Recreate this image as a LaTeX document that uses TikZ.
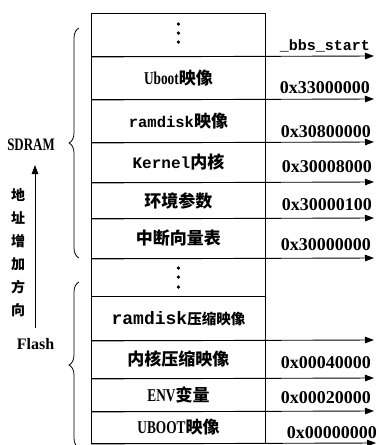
\documentclass[tikz,border=0pt]{standalone}
\usepackage{graphicx}
\usepackage{fontspec}
\setmainfont{Liberation Serif}
\newfontfamily\cjk{Noto Sans CJK SC}
\newfontfamily\mono{Liberation Mono}
\newcommand\condtxt[2]{\scalebox{0.74}[1]{\rmfamily\bfseries\fontsize{#1}{#1}\selectfont #2}}
\usetikzlibrary{arrows.meta,decorations.pathreplacing}
\newcommand\fsz[1]{\fontsize{#1}{#1}\selectfont}
\begin{document}
\begin{tikzpicture}[x=1pt,y=-1pt,
  row/.style={draw, line width=0.9pt, minimum width=174pt, inner sep=0pt, anchor=north west, font=\cjk\bfseries\fsz{17}},
  addr/.style={line width=0.9pt, -{Triangle[length=9pt,width=6.5pt]}},
  hex/.style={anchor=base east, inner sep=0pt, font=\bfseries\fsz{18}},
  bracestyle/.style={line width=0.8pt, decorate, decoration={brace, amplitude=10pt}},
  dotmark/.style={fill=black},
  vch/.style={font=\cjk\bfseries\fsz{14}, inner sep=0pt}
]
\useasboundingbox (0,0) rectangle (378,445);

% memory rows
\node[row, minimum height=43.3pt] (r1)  at (91,12.7) {};
\node[row, minimum height=43pt]   (r2)  at (91,56)  {\condtxt{18}{Uboot}映像};
\node[row, minimum height=43pt]   (r3)  at (91,99)  {{\mono\fsz{15.5}ramdisk}映像};
\node[row, minimum height=40pt]   (r4)  at (91,142) {{\mono\fsz{16}Kernel}内核};
\node[row, minimum height=36pt]   (r5)  at (91,182) {环境参数};
\node[row, minimum height=40pt]   (r6)  at (91,218) {中断向量表};
\node[row, minimum height=38pt]   (r7)  at (91,258) {};
\node[row, minimum height=44pt]   (r8)  at (91,296) {{\mono\fsz{18}ramdisk}{\fsz{14.5}压缩映像}};
\node[row, minimum height=38pt]   (r9)  at (91,340) {内核压缩映像};
\node[row, minimum height=33pt]   (r10) at (91,378) {\condtxt{18}{ENV}变量};
\node[row, minimum height=32pt]   (r11) at (91,411) {\condtxt{18}{UBOOT}映像};

% dots
\foreach \d in {11.3,20.3,29.3} \fill[dotmark] (r1.north) ++(0,\d) circle (1.8pt);
\foreach \d in {10,19,29} \fill[dotmark] (r7.north) ++(0,\d) circle (1.8pt);

% arrow end points
\coordinate (a1) at (374,56);
\coordinate (a2) at (374,99);
\coordinate (a3) at (374,142);
\coordinate (a4) at (374,182);
\coordinate (a5) at (374,218);
\coordinate (a6) at (374,258);
\coordinate (a8) at (374,340);
\coordinate (a9) at (374,378);
\coordinate (a10) at (374,411);
\coordinate (a11) at (376,443);

\draw[addr] (r1.south west) -- (a1);
\draw[addr] (r2.south west) -- (a2);
\draw[addr] (r3.south west) -- (a3);
\draw[addr] (r4.south west) -- (a4);
\draw[addr] (r5.south west) -- (a5);
\draw[addr] (r6.south west) -- (a6);
\draw[addr] (r8.south west) -- (a8);
\draw[addr] (r9.south west) -- (a9);
\draw[addr] (r10.south west) -- (a10);
\draw[addr] (r11.south west) -- (a11);

% address labels
\node[hex, font=\mono\bfseries\fsz{15}] (l1) at (370,50) {\_bbs\_start};
\node[hex] (l2) at (370,93) {0x33000000};
\node[hex] (l3) at (371,137) {0x30800000};
\node[hex] (l4) at (372,172) {0x30008000};
\node[hex] (l5) at (372,210) {0x30000100};
\node[hex] (l6) at (371,250) {0x30000000};
\node[hex] (l9) at (371,368) {0x00040000};
\node[hex] (l10) at (371,403) {0x00020000};
\node[hex] (l11) at (377,438) {0x00000000};

% braces
\draw[bracestyle] (79,258) -- (79,28);
\draw[bracestyle] (79,448) -- (79,282);

\node[anchor=base, inner sep=0pt] (sdram) at (31,150) {\condtxt{17.5}{SDRAM}};
\node[anchor=base, inner sep=0pt, font=\bfseries\fsz{16}] (flash) at (35.5,349) {Flash};

% direction arrow
\coordinate (d0) at (35,328);
\coordinate (d1) at (35,165);
\draw[line width=0.9pt, -{Triangle[length=9pt,width=6.5pt]}] (d0) -- (d1);

\foreach \c [count=\i from 0] in {地,址,增,加,方,向}
  \node[vch] (v\i) at (18,195+23*\i) {\c};
\end{tikzpicture}
\end{document}
